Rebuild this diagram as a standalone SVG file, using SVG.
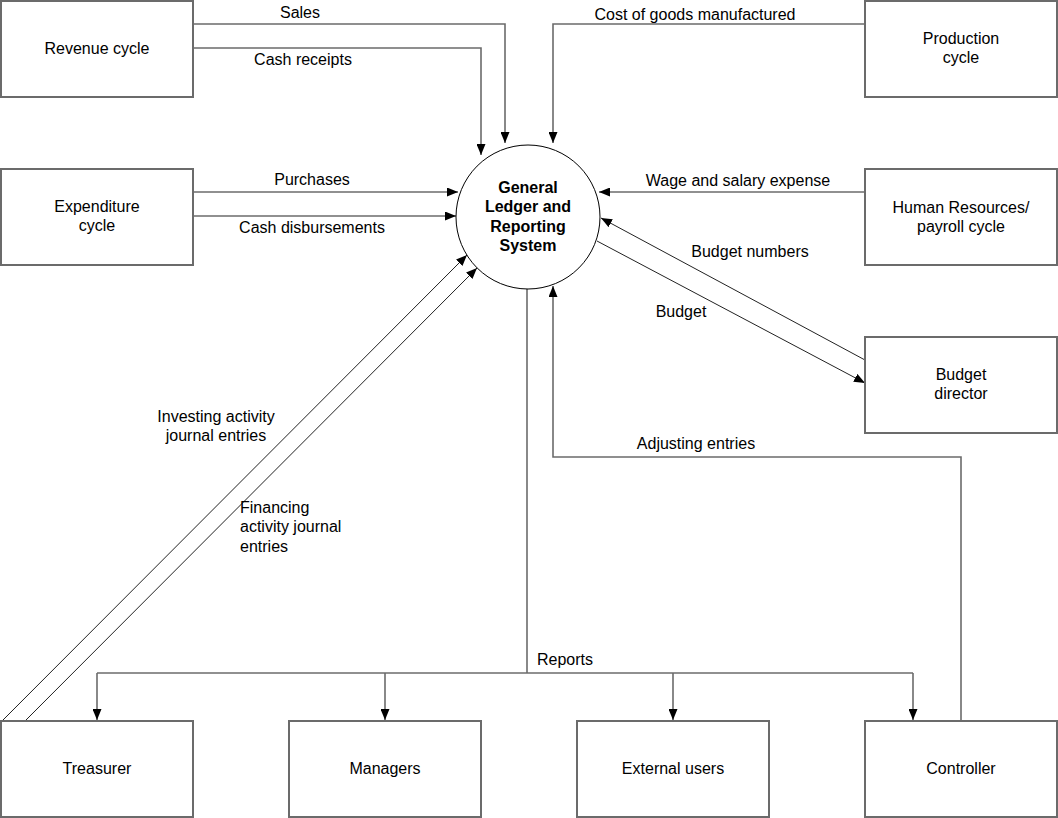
<svg xmlns="http://www.w3.org/2000/svg" width="1058" height="818" viewBox="0 0 1058 818">
<style>
.box{fill:#fff;stroke:#6b6b6b;stroke-width:2}
.t{font-family:"Liberation Sans",Arial,sans-serif;font-size:16px;fill:#000}
.c{text-anchor:middle}
.b{font-weight:bold}
.ln{fill:none;stroke:#6b6b6b;stroke-width:1.6}
.thin{fill:none;stroke:#222;stroke-width:1}
</style>
<defs>
<marker id="ah" markerUnits="userSpaceOnUse" markerWidth="11" markerHeight="9" refX="11" refY="4.5" orient="auto">
<path d="M0,0 L11,4.5 L0,9 z" fill="#000"/>
</marker>
</defs>
<rect width="1058" height="818" fill="#fff"/>
<g id="connectors">
<polyline class="ln" points="193,24 505,24 505,143" marker-end="url(#ah)"/>
<polyline class="ln" points="193,48 481,48 481,155" marker-end="url(#ah)"/>
<polyline class="ln" points="865,24 553,24 553,143" marker-end="url(#ah)"/>
<line class="ln" x1="193" y1="192" x2="458" y2="192" marker-end="url(#ah)"/>
<line class="ln" x1="193" y1="216" x2="456" y2="216" marker-end="url(#ah)"/>
<line class="ln" x1="865" y1="192" x2="599" y2="192" marker-end="url(#ah)"/>
<line class="thin" x1="865" y1="360" x2="601" y2="218" marker-end="url(#ah)"/>
<line class="thin" x1="597" y1="241" x2="865" y2="383" marker-end="url(#ah)"/>
<line class="thin" x1="2" y1="721" x2="467" y2="255" marker-end="url(#ah)"/>
<line class="thin" x1="25" y1="721" x2="477" y2="268" marker-end="url(#ah)"/>
<line class="ln" x1="527" y1="289" x2="527" y2="673"/>
<line class="ln" x1="97" y1="673" x2="913" y2="673"/>
<line class="ln" x1="97" y1="673" x2="97" y2="720" marker-end="url(#ah)"/>
<line class="ln" x1="385" y1="673" x2="385" y2="720" marker-end="url(#ah)"/>
<line class="ln" x1="673" y1="673" x2="673" y2="720" marker-end="url(#ah)"/>
<line class="ln" x1="913" y1="673" x2="913" y2="720" marker-end="url(#ah)"/>
<polyline class="ln" points="961,721 961,457 553,457 553,286" marker-end="url(#ah)"/>
<text class="t c" x="300" y="18">Sales</text>
<text class="t c" x="303" y="65">Cash receipts</text>
<text class="t c" x="695" y="20">Cost of goods manufactured</text>
<text class="t c" x="312" y="185">Purchases</text>
<text class="t c" x="312" y="233">Cash disbursements</text>
<text class="t c" x="738" y="186">Wage and salary expense</text>
<text class="t c" x="750" y="257">Budget numbers</text>
<text class="t c" x="681" y="317">Budget</text>
<text class="t c" x="216" y="422">Investing activity</text>
<text class="t c" x="216" y="441">journal entries</text>
<text class="t" x="240" y="513">Financing</text>
<text class="t" x="240" y="532">activity journal</text>
<text class="t" x="240" y="552">entries</text>
<text class="t c" x="696" y="449">Adjusting entries</text>
<text class="t" x="537" y="665">Reports</text>
</g>
<g id="gl">
<circle cx="528" cy="217" r="72" fill="#fff" stroke="#000" stroke-width="1"/>
<text class="t c b" x="528" y="193">General</text>
<text class="t c b" x="528" y="212">Ledger and</text>
<text class="t c b" x="528" y="232">Reporting</text>
<text class="t c b" x="528" y="251">System</text>
</g>
<g id="revenue"><rect class="box" x="1" y="1" width="192" height="96"/><text class="t c" x="97" y="54">Revenue cycle</text></g>
<g id="production"><rect class="box" x="865" y="1" width="192" height="96"/><text class="t c" x="961" y="44">Production</text><text class="t c" x="961" y="63">cycle</text></g>
<g id="expenditure"><rect class="box" x="1" y="169" width="192" height="96"/><text class="t c" x="97" y="212">Expenditure</text><text class="t c" x="97" y="231">cycle</text></g>
<g id="hr"><rect class="box" x="865" y="169" width="192" height="96"/><text class="t c" x="961" y="213">Human Resources/</text><text class="t c" x="961" y="232">payroll cycle</text></g>
<g id="budgetdir"><rect class="box" x="865" y="337" width="192" height="96"/><text class="t c" x="961" y="380">Budget</text><text class="t c" x="961" y="399">director</text></g>
<g id="treasurer"><rect class="box" x="1" y="721" width="192" height="96"/><text class="t c" x="97" y="774">Treasurer</text></g>
<g id="managers"><rect class="box" x="289" y="721" width="192" height="96"/><text class="t c" x="385" y="774">Managers</text></g>
<g id="external"><rect class="box" x="577" y="721" width="192" height="96"/><text class="t c" x="673" y="774">External users</text></g>
<g id="controller"><rect class="box" x="865" y="721" width="192" height="96"/><text class="t c" x="961" y="774">Controller</text></g>
</svg>
